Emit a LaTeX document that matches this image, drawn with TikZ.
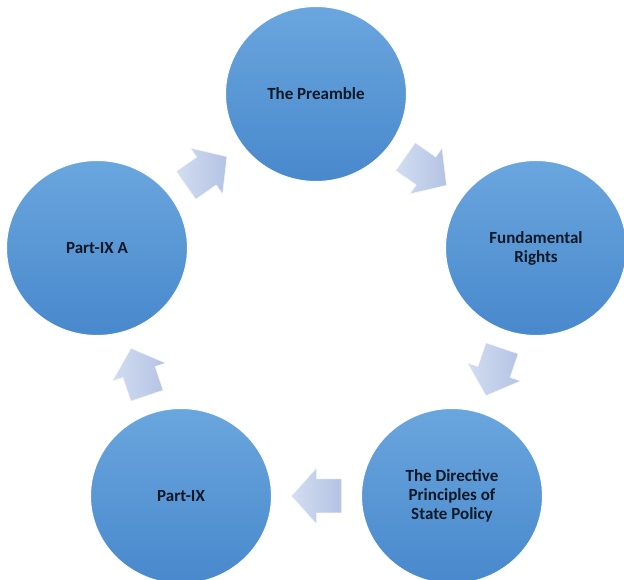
\documentclass[tikz,border=0pt]{standalone}
\usepackage{fontspec}
\setmainfont{Carlito}
\usetikzlibrary{shapes.geometric,calc}
\definecolor{circtop}{RGB}{106,166,222}
\definecolor{circbot}{RGB}{72,136,204}
\definecolor{arrtip}{RGB}{180,195,228}
\definecolor{arrtail}{RGB}{210,221,241}
\definecolor{labeltext}{RGB}{14,24,38}
\tikzset{
  stage/.style={ellipse,minimum width=181,minimum height=175,inner sep=0,
    top color=circtop,bottom color=circbot,draw=white,line width=1,
    align=center,text=labeltext,font=\fontsize{17}{19}\selectfont\bfseries},
  cyclearrow/.pic={
    \shade[left color=arrtail,right color=arrtip,draw=white!85!arrtip,line width=0.5]
      (-25,-17) -- (0,-17) -- (0,-28) -- (25,0) -- (0,28) -- (0,17) -- (-25,17) -- cycle;
  }
}
\begin{document}
\begin{tikzpicture}[x=1pt,y=1pt]
            \useasboundingbox (0,0) rectangle (624,580);
            \node[stage] (pre) at (316,486) {The Preamble};
            \node[stage] (fr) at (536,332) {Fundamental\\Rights};
            \node[stage] (dpsp) at (452,84) {The Directive\\Principles of\\State Policy};
            \node[stage] (p9) at (181,84) {Part-IX};
            \node[stage] (p9a) at (97,332) {Part-IX A};
            \path ($(pre)!0.5!(fr)$) pic[rotate=-35] {cyclearrow};
            \path ($(fr)!0.5!(dpsp)$) pic[rotate=-108.7] {cyclearrow};
            \path ($(dpsp)!0.5!(p9)$) pic[rotate=180] {cyclearrow};
            \path ($(p9)!0.5!(p9a)$) pic[rotate=108.7] {cyclearrow};
            \path ($(p9a)!0.5!(pre)$) pic[rotate=35] {cyclearrow};
        \end{tikzpicture}
\end{document}
